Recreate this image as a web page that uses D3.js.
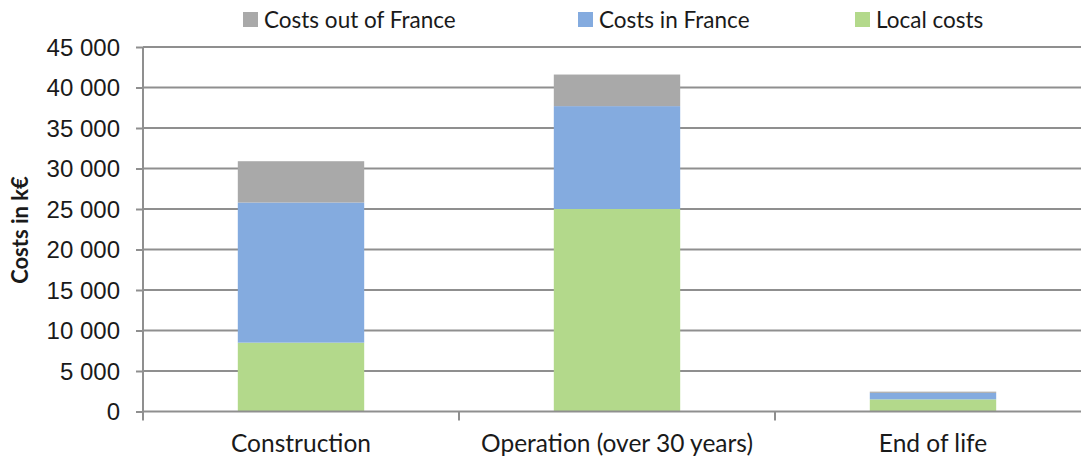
<!DOCTYPE html>
<html>
<head>
<meta charset="utf-8">
<script src="https://cdn.jsdelivr.net/npm/d3@7"></script>
<style>
  html, body { margin: 0; padding: 0; background: #fff; }
  svg { display: block; font-family: Lato, "Open Sans", sans-serif; }
</style>
</head>
<body>
<svg id="chart" width="1081" height="462"></svg>
<script>
// Project phases and cost breakdown (k€)
const categories = ["Construction", "Operation (over 30 years)", "End of life"];
const localCosts = [8500, 25000, 1500];
const costsInFrance = [17300, 12700, 800];
const costsOutOfFrance = [5100, 3900, 150];
const yTicks = [0, 5000, 10000, 15000, 20000, 25000, 30000, 35000, 40000, 45000];

const seriesNames = ["Local costs", "Costs in France", "Costs out of France"];
const colors = { "Local costs": "#b3d98b", "Costs in France": "#84abdf", "Costs out of France": "#a9a9a9" };
const legendOrder = ["Costs out of France", "Costs in France", "Local costs"];

const rows = categories.map((c, i) => ({
  cat: c,
  "Local costs": localCosts[i],
  "Costs in France": costsInFrance[i],
  "Costs out of France": costsOutOfFrance[i]
}));

const svg = d3.select("#chart");
const plotLeft = 143, plotRight = 1091, plotTop = 47, plotBottom = 411.5;

const x = d3.scaleBand().domain(categories).range([plotLeft, plotRight]).paddingInner(0.6).paddingOuter(0.3);
const y = d3.scaleLinear().domain([0, 45000]).range([plotBottom, plotTop]);

// horizontal gridlines
svg.append("g").selectAll("line").data(yTicks.filter(t => t > 0)).join("line")
  .attr("x1", plotLeft).attr("x2", plotRight)
  .attr("y1", d => y(d)).attr("y2", d => y(d))
  .attr("stroke", "#8f8f8f").attr("stroke-width", 2);

// stacked bars
const stack = d3.stack().keys(seriesNames)(rows);
svg.append("g").selectAll("g").data(stack).join("g")
  .attr("fill", d => colors[d.key])
  .selectAll("rect").data(d => d).join("rect")
  .attr("x", d => x(d.data.cat))
  .attr("width", x.bandwidth())
  .attr("y", d => y(d[1]))
  .attr("height", d => y(d[0]) - y(d[1]));

// y axis
const yAxis = d3.axisLeft(y).tickValues(yTicks).tickSize(7).tickPadding(16);
const gy = svg.append("g").attr("transform", `translate(${plotLeft},0)`).call(yAxis);
gy.select(".domain").attr("stroke", "#8f8f8f").attr("stroke-width", 2).attr("d", `M0,${plotTop}V${plotBottom}`);
gy.selectAll(".tick line").attr("stroke", "#8f8f8f").attr("stroke-width", 2);
gy.selectAll(".tick text").attr("fill", "#1a1a1a").style("font-size", "24px").attr("dy", "0.35em")
  .text(d => d === 0 ? "0" : d3.format(",")(d).replace(/,/g, " "));

// x axis baseline and category separators
const step = x.step();
const sepX = d3.range(categories.length + 1).map(i => plotLeft + i * step);
svg.append("line").attr("x1", plotLeft).attr("x2", plotRight).attr("y1", plotBottom).attr("y2", plotBottom)
  .attr("stroke", "#8f8f8f").attr("stroke-width", 2);
svg.append("g").selectAll("line").data(sepX).join("line")
  .attr("x1", d => d).attr("x2", d => d).attr("y1", plotBottom).attr("y2", plotBottom + 9)
  .attr("stroke", "#8f8f8f").attr("stroke-width", 2);
svg.append("g").selectAll("text").data(categories).join("text")
  .attr("x", d => x(d) + x.bandwidth() / 2).attr("y", 452)
  .attr("text-anchor", "middle").attr("fill", "#1a1a1a").style("font-size", "24.5px")
  .text(d => d);

// y axis title
svg.append("text")
  .attr("transform", "translate(28,230) rotate(-90)")
  .attr("text-anchor", "middle").attr("fill", "#1a1a1a")
  .style("font-size", "22px").style("font-weight", "bold")
  .text("Costs  in k€");

// legend
const legendX = [243, 578, 855];
const lg = svg.append("g").selectAll("g").data(legendOrder).join("g")
  .attr("transform", (d, i) => `translate(${legendX[i]},12)`);
lg.append("rect").attr("width", 15).attr("height", 15).attr("fill", d => colors[d]);
lg.append("text").attr("x", 21).attr("y", 16).attr("fill", "#1a1a1a").style("font-size", "22.5px").text(d => d);
</script>
</body>
</html>
